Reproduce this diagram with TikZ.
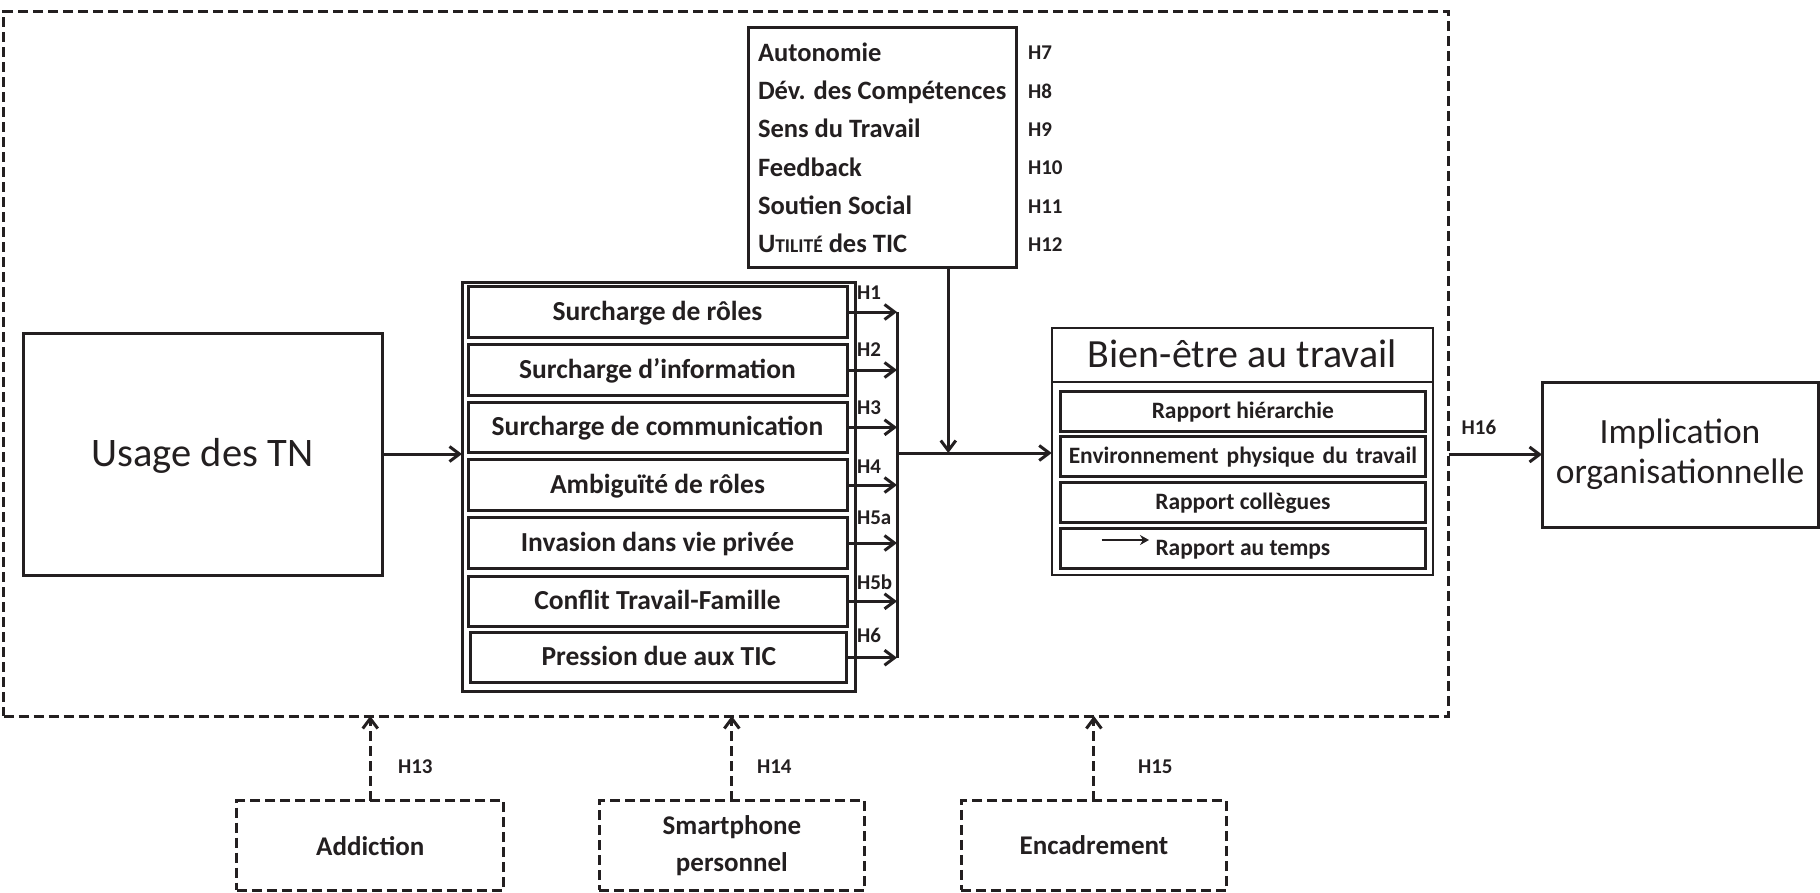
\documentclass[tikz,border=0pt]{standalone}
\usepackage{fontspec}
\setmainfont{Carlito}
\usetikzlibrary{arrows.meta}
\definecolor{ink}{RGB}{35,31,32}
\newcommand\fUsage{\fontsize{40.5}{48}\selectfont}
\newcommand\fBien{\fontsize{40}{48}\selectfont}
\newcommand\fImpl{\fontsize{35.5}{40}\selectfont}
\newcommand\fRow{\bfseries\fontsize{27.5}{30}\selectfont}
\newcommand\fTop{\bfseries\fontsize{26.5}{30}\selectfont}
\newcommand\fSmallCaps{\fontsize{19.5}{22}\selectfont}
\newcommand\fIn{\bfseries\fontsize{23.5}{26}\selectfont}
\newcommand\fHl{\bfseries\fontsize{21}{24}\selectfont}
\newcommand\fBot{\bfseries\fontsize{27}{37}\selectfont}
\begin{document}
\begin{tikzpicture}[x=1pt,y=-1pt,line width=3pt,color=ink,
  every node/.style={inner sep=0pt,outer sep=0pt,text=ink},
  bx/.style={draw,line width=3pt},
  dbx/.style={draw,line width=3pt,dash pattern=on 10pt off 5pt},
  arr/.style={line width=3pt,-{Straight Barb[length=10pt,width=15pt]}},
  darr/.style={line width=3pt,dash pattern=on 10pt off 5pt,-{Straight Barb[length=10pt,width=15pt]}},
  tRow/.style={font=\fRow,text height=20.6pt,text depth=4.1pt},
  tTop/.style={font=\fTop,anchor=west,text height=19.9pt,text depth=4pt},
  tIn/.style={font=\fIn,text height=17.6pt,text depth=3.5pt},
  hl/.style={font=\fHl,anchor=west,text height=15.8pt,text depth=3.1pt}]
\useasboundingbox (0,0) rectangle (1820,892);

% outer dashed frame
\node[dbx,minimum width=1445.1pt,minimum height=704.4pt] (frame) at (726.05,363.8) {};

% Usage
\node[bx,minimum width=359pt,minimum height=242pt,font=\fUsage,text height=30.4pt,text depth=6pt] (usage) at (202.5,454) {Usage des TN};

% middle group
\node[bx,minimum width=393pt,minimum height=409.5pt] (mid) at (658.5,486.8) {};
\node[bx,minimum width=379pt,minimum height=50.5pt,tRow] (r1) at (657.5,312) {Surcharge de rôles};
\node[bx,minimum width=379pt,minimum height=50.5pt,tRow] (r2) at (657.5,370) {Surcharge d’information};
\node[bx,minimum width=379pt,minimum height=50.5pt,tRow] (r3) at (657.5,427.3) {Surcharge de communication};
\node[bx,minimum width=379pt,minimum height=50.5pt,tRow] (r4) at (657.5,485) {Ambiguïté de rôles};
\node[bx,minimum width=379pt,minimum height=50.5pt,tRow] (r5) at (657.5,543) {Invasion dans vie privée};
\node[bx,minimum width=379pt,minimum height=50.5pt,tRow] (r6) at (657.5,601.3) {Conflit Travail-Famille};
\node[bx,minimum width=376pt,minimum height=50.5pt,tRow] (r7) at (658.9,657.7) {Pression due aux TIC};

\draw[arr] (usage.east) -- (mid.west |- usage.east);

\coordinate (bar) at (897,0);
\foreach \i in {1,...,7} {\draw[arr] (r\i.east) -- (r\i.east -| bar);}
\draw (r1.east -| bar) -- (r7.east -| bar);

\node[hl] (h1) at (857,292.7) {H1};
\node[hl] (h2) at (857,350) {H2};
\node[hl] (h3) at (857,408.3) {H3};
\node[hl] (h4) at (857,466.7) {H4};
\node[hl] (h5a) at (857,517.7) {H5a};
\node[hl] (h5b) at (857,583.3) {H5b};
\node[hl] (h6) at (857,636) {H6};

% top box
\node[bx,minimum width=268.7pt,minimum height=240.4pt] (topbox) at (882.35,147.5) {};
\node[tTop] (t1) at (758,53.3) {Autonomie};
\node[tTop] (t2) at (758,91.7) {Dév. des Compétences};
\node[tTop] (t3) at (758,130) {Sens du Travail};
\node[tTop] (t4) at (758,168.3) {Feedback};
\node[tTop] (t5) at (758,206.7) {Soutien Social};
\node[tTop] (t6) at (758,245) {U{\fSmallCaps TILITÉ} des TIC};
\node[hl] (h7) at (1028,53.3) {H7};
\node[hl] (h8) at (1028,91.7) {H8};
\node[hl] (h9) at (1028,130) {H9};
\node[hl] (h10) at (1028,168.3) {H10};
\node[hl] (h11) at (1028,206.7) {H11};
\node[hl] (h12) at (1028,245) {H12};

% Bien-etre
\node[draw,line width=2pt,minimum width=381.3pt,minimum height=246.7pt] (bien) at (1242.35,451.65) {};
\draw[line width=2pt] (bien.west |- 0,382.3) coordinate (hdl) -- (bien.east |- hdl);
\node[font=\fBien,text height=30pt,text depth=6pt] (bienT) at (1242.35,355.3) {Bien-être au travail};
\node[bx,minimum width=365.7pt,minimum height=40pt,tIn] (b1) at (1242.85,411.7) {Rapport hiérarchie};
\node[bx,minimum width=365.7pt,minimum height=40pt,tIn] (b2) at (1242.85,456.7) {\spaceskip=0.34em plus 0.1em\relax Environnement physique du travail};
\node[bx,minimum width=365.7pt,minimum height=40pt,tIn] (b3) at (1242.85,502) {Rapport collègues};
\node[bx,minimum width=365.7pt,minimum height=40pt,tIn] (b4) at (1242.85,548) {Rapport au temps};
\coordinate (sa1) at (1101.7,540);
\coordinate (sa2) at (1149,540);
\draw[line width=2pt,-{Stealth[length=9pt,width=10pt]}] (sa1) -- (sa2);

% junction arrows
\coordinate (jn) at (897,453);
\draw[arr] (jn) -- (jn -| bien.west);
\coordinate (vj) at (948.3,453);
\draw[arr] (vj |- topbox.south) -- (vj);

% Implication
\node[bx,minimum width=276pt,minimum height=145pt,align=center,font=\fImpl] (impl) at (1680,454.5) {\raisebox{-3pt}{}Implication\\organisationnelle};
\draw[arr] (frame.east |- impl.west) -- (impl.west);
\node[hl] (h16) at (1461.7,428) {H16};

% bottom moderators
\node[dbx,minimum width=266.9pt,minimum height=89.4pt,font=\fBot] (add) at (370.25,845.6) {Addiction};
\node[dbx,minimum width=265.7pt,minimum height=89.4pt,font=\fBot,align=center] (sph) at (731.85,845.6) {Smartphone\\personnel};
\node[dbx,minimum width=265.8pt,minimum height=89.4pt,font=\fBot] (enc) at (1093.9,845.6) {Encadrement};
\draw[darr] (add.north) -- (add.north |- frame.south);
\draw[darr] (sph.north) -- (sph.north |- frame.south);
\draw[darr] (enc.north) -- (enc.north |- frame.south);
\node[hl] (h13) at (398,767) {H13};
\node[hl] (h14) at (757,767) {H14};
\node[hl] (h15) at (1138,767) {H15};
\end{tikzpicture}
\end{document}
